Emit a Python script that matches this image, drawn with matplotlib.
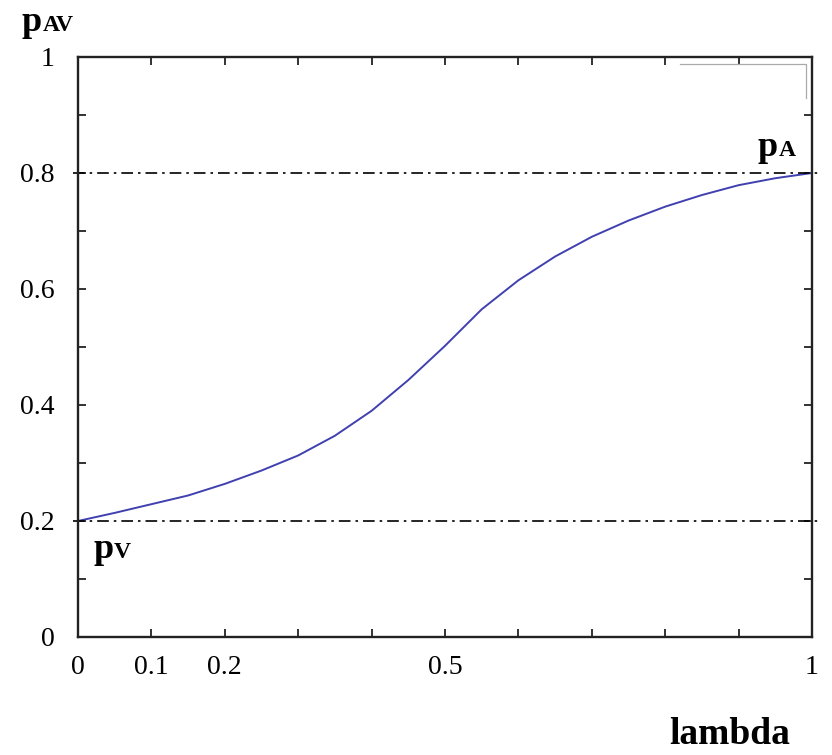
import matplotlib.pyplot as plt
import numpy as np

# curve p_AV(lambda)
lam = [0.0, 0.05, 0.1, 0.15, 0.2, 0.25, 0.3, 0.35, 0.4, 0.45, 0.5,
       0.55, 0.6, 0.65, 0.7, 0.75, 0.8, 0.85, 0.9, 0.95, 1.0]
p_av = [0.200, 0.214, 0.229, 0.244, 0.264, 0.287, 0.313, 0.347, 0.390, 0.443, 0.502,
        0.565, 0.615, 0.656, 0.690, 0.718, 0.742, 0.762, 0.779, 0.791, 0.800]
p_v = 0.2
p_a = 0.8

xticks = np.round(np.arange(0, 1.01, 0.1), 1)
xlabels = ['0', '0.1', '0.2', '', '', '0.5', '', '', '', '', '1']
yticks = np.round(np.arange(0, 1.01, 0.1), 1)
ylabels = ['0', '', '0.2', '', '0.4', '', '0.6', '', '0.8', '', '1']

plt.rcParams['font.family'] = ['Liberation Serif', 'DejaVu Serif']

fig = plt.figure(figsize=(8.32, 7.55), dpi=100)
ax = fig.add_axes([78/832, 1-637/755, (812-78)/832, (637-57)/755])

ax.plot(lam, p_av, color='#4040b0', lw=1.4)
for yv in (p_v, p_a):
    ax.plot([-0.007, 1.012], [yv, yv], color='black', lw=1.2,
            dashes=(7, 3, 1.5, 3), clip_on=False)

# leftover grey frame in upper right
ax.plot([0.820, 0.992, 0.992], [0.988, 0.988, 0.929], color='#aaaaaa', lw=0.9,
        transform=ax.transAxes)

ax.set_xlim(0, 1)
ax.set_ylim(0, 1)
ax.set_xticks(xticks)
ax.set_xticklabels(xlabels)
ax.set_yticks(yticks)
ax.set_yticklabels(ylabels)
ax.tick_params(direction='in', length=6, width=1.3, top=True, right=True,
               labelsize=20, color='#222222')
ax.tick_params(axis='x', pad=13)
ax.tick_params(axis='y', pad=17)
for s in ax.spines.values():
    s.set_linewidth(1.7)
    s.set_color('#222222')

# labels, placed in pixel positions of the figure
def fx(px):
    return px / 832

def fy(py):
    return 1 - py / 755

fig.text(fx(22), fy(31), 'p', fontsize=26, fontweight='bold', va='baseline')
fig.text(fx(43), fy(31), 'AV', fontsize=17, fontweight='bold', va='baseline')
fig.text(fx(758), fy(156), 'p', fontsize=26, fontweight='bold', va='baseline')
fig.text(fx(779), fy(156), 'A', fontsize=17, fontweight='bold', va='baseline')
fig.text(fx(93), fy(558), 'p', fontsize=26, fontweight='bold', va='baseline')
fig.text(fx(114), fy(558), 'V', fontsize=17, fontweight='bold', va='baseline')
fig.text(fx(669), fy(744), 'lambda', fontsize=27, fontweight='bold', va='baseline')

fig.savefig('out.png', dpi=100)
